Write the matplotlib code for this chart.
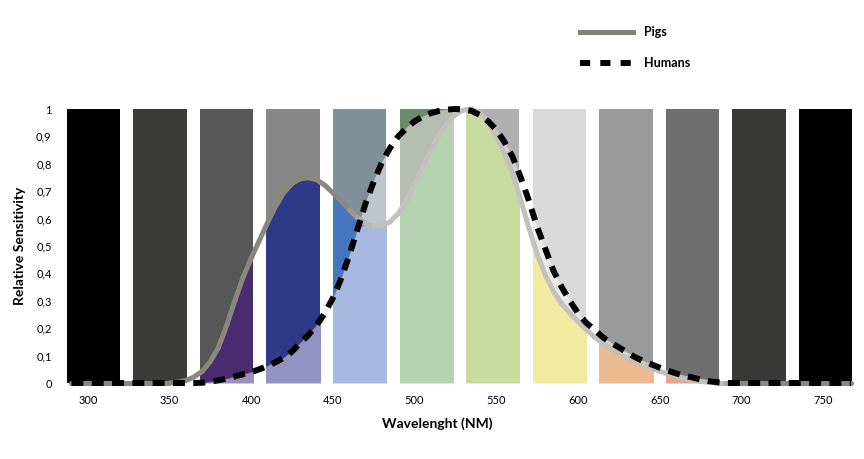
import numpy as np
import matplotlib
matplotlib.use('Agg')
import matplotlib.pyplot as plt
from matplotlib.collections import LineCollection
from matplotlib.lines import Line2D
from matplotlib.colors import to_rgb

plt.rcParams['font.family'] = ['Lato', 'DejaVu Sans']

# wavelength grid (nm) shared by both sensitivity curves
wavelength = np.array([290,
                       350, 355, 360, 365, 370, 375, 380, 385, 390, 395,
                       400, 405, 410, 415, 420, 425, 430, 435, 440, 445,
                       450, 455, 460, 465, 470, 475, 480, 485, 490, 495,
                       500, 505, 510, 515, 520, 525, 530, 535, 540, 545,
                       550, 555, 560, 565, 570, 575, 580, 585, 590, 595,
                       600, 605, 610, 615, 620, 625, 630, 635, 640, 645,
                       650, 655, 660, 665, 670, 675, 680, 685, 690, 695,
                       700, 767])

pigs = np.array([0.0,
                 0.0, 0.003, 0.009, 0.022, 0.042, 0.078, 0.13, 0.21, 0.30, 0.385,
                 0.455, 0.52, 0.585, 0.645, 0.695, 0.728, 0.745, 0.749, 0.742, 0.722,
                 0.694, 0.664, 0.632, 0.603, 0.582, 0.573, 0.575, 0.588, 0.618, 0.665,
                 0.728, 0.79, 0.85, 0.905, 0.95, 0.98, 0.996, 1.0, 0.985, 0.955,
                 0.9, 0.838, 0.765, 0.668, 0.565, 0.47, 0.395, 0.335, 0.29, 0.255,
                 0.225, 0.195, 0.168, 0.145, 0.125, 0.107, 0.091, 0.078, 0.066, 0.054,
                 0.043, 0.033, 0.024, 0.016, 0.011, 0.006, 0.002, 0.0, 0.0, 0.0,
                 0.0, 0.0])

humans = np.array([0.0,
                   0.0, 0.0, 0.0, 0.0, 0.001, 0.005, 0.01, 0.016, 0.024, 0.032,
                   0.04, 0.05, 0.062, 0.076, 0.092, 0.115, 0.145, 0.175, 0.21, 0.255,
                   0.31, 0.38, 0.465, 0.56, 0.655, 0.735, 0.805, 0.858, 0.9, 0.93,
                   0.955, 0.972, 0.985, 0.993, 0.998, 1.0, 0.998, 0.993, 0.978, 0.955,
                   0.925, 0.88, 0.825, 0.75, 0.665, 0.57, 0.49, 0.41, 0.35, 0.30,
                   0.255, 0.22, 0.195, 0.168, 0.148, 0.13, 0.112, 0.094, 0.08, 0.068,
                   0.056, 0.045, 0.035, 0.027, 0.02, 0.013, 0.007, 0.003, 0.0, 0.0,
                   0.0, 0.0])

# colour bands (12 columns): background, below both curves,
# pigs-only zone, humans-only zone
band_top = ['#000000', '#3a3a38', '#575757', '#878787', '#7f909a', '#6d8a6d',
            '#b0b0b0', '#d9d9d9', '#9a9a9a', '#6f6f6f', '#383836', '#000000']
band_low = [None, None, '#9b8fc2', '#9491c3', '#a8b9e1', '#b5d3b1',
            '#c9da9e', '#f0eba1', '#ebbb8f', '#eaa38c', None, None]
band_pig = [None, None, '#4a2b70', '#2e3a88', '#4676bf', '#b5d3b1',
            '#c9da9e', '#f0eba1', '#ebbb8f', '#eaa38c', None, None]
band_hum = [None, None, '#9b8fc2', '#9491c3', '#bfc5cd', '#b3beb0',
            '#d2d2ce', '#ebebeb', '#d4d4d4', '#c8c8c8', None, None]

x_ticks = [300, 350, 400, 450, 500, 550, 600, 650, 700, 750]
y_ticks = [0, 0.1, 0.2, 0.3, 0.4, 0.5, 0.6, 0.7, 0.8, 0.9, 1]
y_labels = ['0', '0,1', '0,2', '0,3', '0,4', '0,5', '0,6', '0,7', '0,8', '0,9', '1']

x_min, x_max = 283, 772

fig = plt.figure(figsize=(8.64, 4.59), dpi=100)
ax = fig.add_axes([60 / 864, 1 - 383 / 459, 799 / 864, 274 / 459])
ax.set_xlim(x_min, x_max)
ax.set_ylim(0, 1)

# columns
edges = np.linspace(x_min, x_max, len(band_top) + 1)
centers = (edges[:-1] + edges[1:]) / 2
width = 0.8 * (edges[1] - edges[0])
bars = ax.bar(centers, 1, width, color=band_top, linewidth=0, zorder=1)

low = np.minimum(pigs, humans)
for i, bar in enumerate(bars):
    if band_low[i] is None:
        continue
    f1 = ax.fill_between(wavelength, 0, low, color=band_low[i], lw=0, zorder=2)
    f2 = ax.fill_between(wavelength, humans, pigs, where=pigs >= humans,
                         interpolate=True, color=band_pig[i], lw=0, zorder=2)
    f3 = ax.fill_between(wavelength, pigs, humans, where=humans >= pigs,
                         interpolate=True, color=band_hum[i], lw=0, zorder=2)
    for f in (f1, f2, f3):
        f.set_clip_path(bar)

# pigs line: taupe, lighter grey through the green/yellow part
taupe = np.array(to_rgb('#8a877b'))
light = np.array(to_rgb('#c3c1bc'))
pts = np.column_stack([wavelength, pigs])
segs = np.stack([pts[:-1], pts[1:]], axis=1)
mid = (wavelength[:-1] + wavelength[1:]) / 2
w = np.clip((mid - 458) / 17, 0, 1) * np.clip((700 - mid) / 12, 0, 1)
seg_colors = taupe[None, :] * (1 - w[:, None]) + light[None, :] * w[:, None]
lc = LineCollection(segs, colors=seg_colors, linewidths=3.6, capstyle='round',
                    joinstyle='round', zorder=3, clip_on=False)
ax.add_collection(lc)

ax.plot(wavelength, humans, color='black', lw=4.3, linestyle=(0, (2.0, 1.4)),
        dash_capstyle='butt', zorder=4, clip_on=False)

for s in ax.spines.values():
    s.set_visible(False)
ax.set_xticks(x_ticks)
ax.set_xticklabels([str(t) for t in x_ticks])
ax.set_yticks(y_ticks)
ax.set_yticklabels(y_labels)
ax.tick_params(length=0, labelsize=8, colors='black')
ax.tick_params(axis='x', pad=9)
ax.tick_params(axis='y', pad=6)

ax.set_xlabel('Wavelenght (NM)', fontsize=10, fontweight='bold')
ax.set_ylabel('Relative Sensitivity', fontsize=10, fontweight='bold')
ax.xaxis.set_label_coords(0.472, -0.127)
ax.yaxis.set_label_coords(-0.043, 0.5)

handles = [Line2D([], [], color='#858276', lw=3.6),
           Line2D([], [], color='black', lw=4.3, linestyle=(0, (1.7, 1.7)))]
fig.legend(handles, ['Pigs', 'Humans'], loc='upper left',
           bbox_to_anchor=(580 / 864, 1 - 26 / 459), frameon=False,
           prop={'size': 9, 'weight': 'bold'}, handlelength=4.2,
           handletextpad=0.9, labelspacing=1.55, borderaxespad=0, borderpad=0)

fig.savefig('out.png', dpi=100)
